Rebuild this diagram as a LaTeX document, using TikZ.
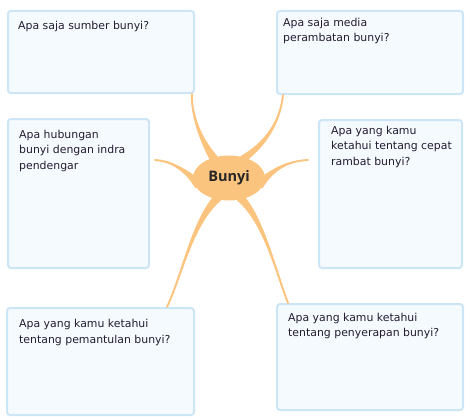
\documentclass[tikz,border=0pt]{standalone}
\usepackage{fontspec}
\setmainfont{Open Sans}
\newfontfamily\questionfont{DejaVu Sans}
\usetikzlibrary{shapes.geometric}

\definecolor{branchorange}{RGB}{251,196,126}
\definecolor{boxblue}{RGB}{204,230,247}
\definecolor{boxfill}{RGB}{245,250,254}
\definecolor{textdark}{RGB}{35,28,50}

\tikzset{
	questionbox/.style={draw=boxblue, fill=boxfill, line width=2pt, rounded corners=3pt,
		anchor=north west, inner sep=0pt},
	questiontext/.style={anchor=north west, align=left, inner sep=0pt, text=textdark,
		font=\questionfont\fontsize{10.9}{15.5}\selectfont},
	branch/.style={fill=branchorange, draw=branchorange, line width=1.9pt, line join=round},
}

% base 1, base 2, control 1, control 2, tip
\newcommand{\Branch}[5]{%
	\filldraw[branch] (#1) .. controls (#3) and (#4) .. (#5) .. controls (#4) and (#3) .. (#2) -- cycle;
}

\begin{document}
\begin{tikzpicture}
	[x=1pt, y=-1pt]

	\useasboundingbox (0,0) rectangle (474,420);

	% question boxes
	\begin{scope}
		\foreach \n/\x/\y/\w/\h/\tx/\ty/\txt in {
			1/7/10/186/82/18/21/{Apa saja sumber bunyi?},
			2/276/10/186/83/283/17.8/{Apa saja media\\perambatan bunyi?},
			3/7/118/141/149/19/130/{Apa hubungan\\bunyi dengan indra\\pendengar},
			4/318/119/143/148/331/126/{Apa yang kamu\\ketahui tentang cepat\\rambat bunyi?},
			5/6/307/187/107/19/319.5/{Apa yang kamu ketahui\\tentang pemantulan bunyi?},
			6/276/303/186/106/288/312.8/{Apa yang kamu ketahui\\tentang penyerapan bunyi?}} {
			\node[questionbox, minimum width=\w, minimum height=\h] (b\n) at (\x,\y) {};
			\node[questiontext] (q\n) at (\tx,\ty) {\txt};
		}
	\end{scope}

	% centre
	\node[ellipse, fill=branchorange, minimum width=72, minimum height=45, inner sep=0pt,
		font=\fontsize{14.5}{16}\selectfont\bfseries, text=black!85] (bunyi) at (229,178) {Bunyi};

	% free ends of the side branches
	\coordinate (t3) at (155,160);
	\coordinate (t4) at (308,160);

	% branches
	\begin{scope}
		\Branch{bunyi.120}{bunyi.134}{198,136}{191,110}{[xshift=-3]b1.south east}
		\Branch{bunyi.46}{bunyi.60}{271,140}{281,115}{[xshift=7]b2.south west}
		\Branch{bunyi.176}{bunyi.196}{186,171}{172,161}{t3}
		\Branch{bunyi.4}{bunyi.344}{272,171}{286,161}{t4}
		\Branch{bunyi.232}{bunyi.248}{192,224}{182,275}{[xshift=-28]b5.north east}
		\Branch{bunyi.292}{bunyi.308}{264,222}{276,272}{[xshift=12]b6.north west}
	\end{scope}

\end{tikzpicture}
\end{document}
